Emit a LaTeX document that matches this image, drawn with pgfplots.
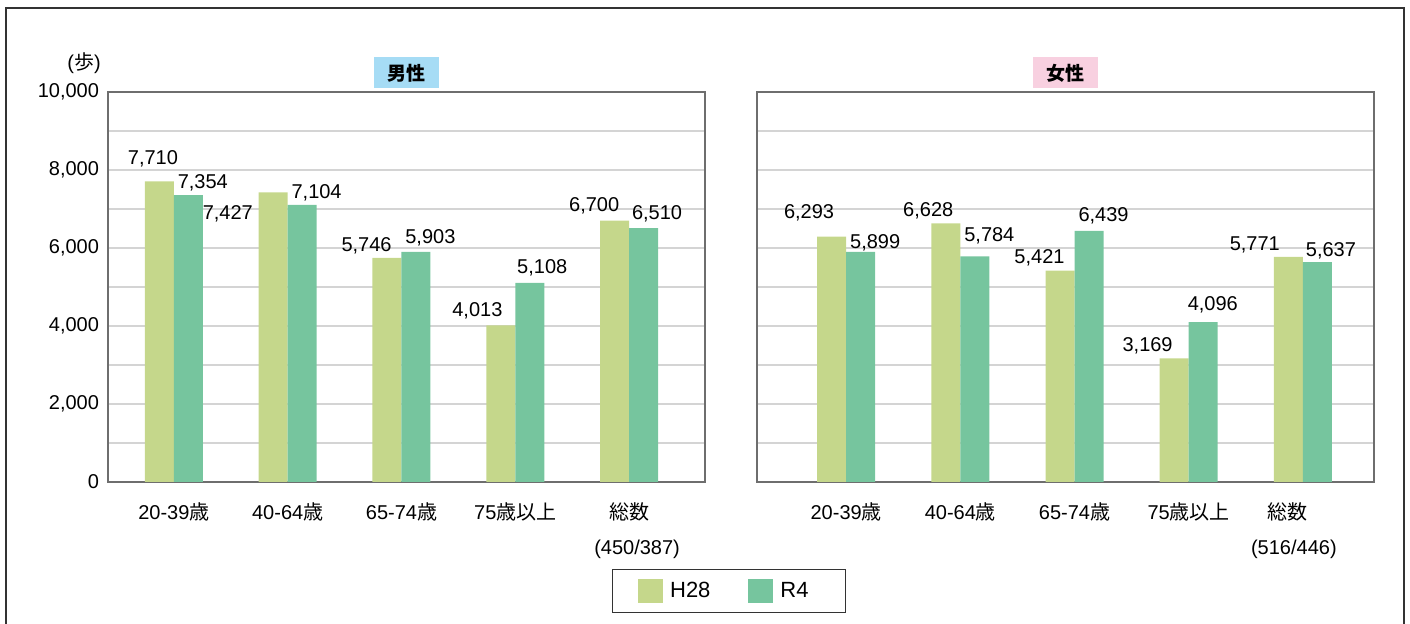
\documentclass[border=0pt]{standalone}
\usepackage{pgfplots}
\pgfplotsset{compat=1.18}
\usepackage{fontspec}
\setmainfont{Liberation Sans}
\newfontfamily\jp{Noto Sans CJK JP}
\definecolor{hgreen}{HTML}{C5D78B}
\definecolor{rgreen}{HTML}{76C59E}
\definecolor{tblue}{HTML}{A6DCF5}
\definecolor{tpink}{HTML}{F8D0E0}
\definecolor{axgray}{HTML}{6E6E6E}
\definecolor{grdgray}{HTML}{D4D4D4}
\tikzset{valnode/.style={font=\fontsize{10}{12}\selectfont, inner sep=0pt}}
\newcommand{\gap}[1]{\hbox to #1{}}
\begin{document}
\begin{tikzpicture}
\useasboundingbox (0,0) rectangle (705pt,312pt);
\draw[color=black!80, line width=0.6pt] (3pt,-10pt) rectangle (702pt,308pt);
\pgfplotsset{
  common/.style={
    scale only axis,
    anchor=south west,
    height=195pt,
    ybar=0pt,
    bar width=14.5pt,
    ymin=0, ymax=10000,
    ytick={0,2000,...,10000},
    minor ytick={1000,3000,...,9000},
    ymajorgrids, yminorgrids,
    major grid style={color=grdgray, line width=0.8pt},
    minor grid style={color=grdgray, line width=0.8pt},
    axis line style={color=axgray, line width=0.6pt},
    major tick length=0pt, minor tick length=0pt,
    xtick={0,1,2,3,4},
    tick label style={font=\fontsize{10}{12}\selectfont},
    xticklabel style={align=center, yshift=-7pt},
    yticklabel style={xshift=-1pt},
    scaled y ticks=false,
    yticklabel={\pgfmathprintnumber[assume math mode=true,1000 sep={,}]{\tick}},
    clip=false,
  },
}
% Left axis: male
\begin{axis}[common,
  at={(54pt,71pt)}, width=298.5pt,
  xmin=-0.579, xmax=4.667,
  xticklabels={{20-39{\jp 歳}},{40-64{\jp 歳}},{65-74{\jp 歳}},{75{\jp 歳以上}},{{\jp 総数}\\[5.5pt]\gap{8pt}(450/387)}},
  legend style={at={(axis description cs:1.040,-0.2795)}, anchor=center,
    draw=black!80, line width=0.5pt, font=\fontsize{11}{13}\selectfont,
    legend columns=2, inner xsep=13pt, inner ysep=4pt,
    /tikz/every odd column/.append style={column sep=1.5pt},
    /tikz/every even column/.append style={column sep=17pt}},
  legend cell align=left,
  legend image code/.code={\fill[#1] (0pt,-6pt) rectangle (12.5pt,6pt);},
]
\addplot[fill=hgreen, draw=none] coordinates {(0,7710) (1,7427) (2,5746) (3,4013) (4,6700)};
\addplot[fill=rgreen, draw=none] coordinates {(0,7354) (1,7104) (2,5903) (3,5108) (4,6510)};
\legend{H28,R4\gap{3.5pt}}
\node[valnode] at (axis cs:-0.184,8282) {7,710};
\node[valnode] at (axis cs:0.254,7667) {7,354};
\node[valnode] at (axis cs:0.474,6872) {7,427};
\node[valnode] at (axis cs:1.254,7410) {7,104};
\node[valnode] at (axis cs:1.693,6051) {5,746};
\node[valnode] at (axis cs:2.254,6256) {5,903};
\node[valnode] at (axis cs:2.667,4385) {4,013};
\node[valnode] at (axis cs:3.237,5487) {5,108};
\node[valnode] at (axis cs:3.693,7077) {6,700};
\node[valnode] at (axis cs:4.246,6872) {6,510};
\node[valnode] at (axis description cs:-0.040,1.074) {({\jp 歩})};
\node[fill=tblue, minimum width=32.5pt, minimum height=15.5pt, inner sep=0pt, font=\jp\bfseries\fontsize{9.5}{11}\selectfont] at (axis description cs:0.5,1.049) {男性};
\end{axis}
% Right axis: female
\begin{axis}[common,
  at={(378.5pt,71pt)}, width=308.5pt,
  xmin=-0.781, xmax=4.623,
  yticklabels={},
  xticklabels={{20-39{\jp 歳}},{40-64{\jp 歳}},{65-74{\jp 歳}},{75{\jp 歳以上}},{{\jp 総数}\gap{15pt}\\[5.5pt](516/446)\gap{9pt}}},
]
\addplot[fill=hgreen, draw=none] coordinates {(0,6293) (1,6628) (2,5421) (3,3169) (4,5771)};
\addplot[fill=rgreen, draw=none] coordinates {(0,5899) (1,5784) (2,6439) (3,4096) (4,5637)};
\node[valnode] at (axis cs:-0.325,6897) {6,293};
\node[valnode] at (axis cs:0.254,6128) {5,899};
\node[valnode] at (axis cs:0.719,6949) {6,628};
\node[valnode] at (axis cs:1.254,6308) {5,784};
\node[valnode] at (axis cs:1.693,5744) {5,421};
\node[valnode] at (axis cs:2.254,6821) {6,439};
\node[valnode] at (axis cs:2.640,3487) {3,169};
\node[valnode] at (axis cs:3.211,4538) {4,096};
\node[valnode] at (axis cs:3.579,6077) {5,771};
\node[valnode] at (axis cs:4.246,5923) {5,637};
\node[fill=tpink, minimum width=32.5pt, minimum height=15.5pt, inner sep=0pt, font=\jp\bfseries\fontsize{9.5}{11}\selectfont] at (axis description cs:0.5,1.049) {女性};
\end{axis}
\end{tikzpicture}
\end{document}
